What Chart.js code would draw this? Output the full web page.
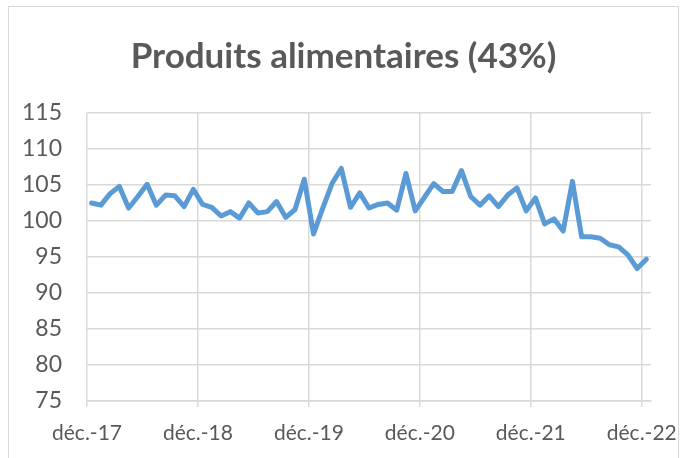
<!DOCTYPE html>
<html>
<head>
<meta charset="utf-8">
<script src="https://cdn.jsdelivr.net/npm/chart.js@4.4.1/dist/chart.umd.min.js"></script>
<style>
  html, body { margin: 0; padding: 0; background: #fff; }
  #wrap { position: relative; width: 681px; height: 458px; overflow: hidden; }
  #frame { position: absolute; left: 8px; top: 6px; width: 671px; height: 470px; border: 1px solid #d9d9d9; box-sizing: border-box; }
  #chart { position: absolute; left: 0; top: 0; }
</style>
</head>
<body>
<div id="wrap">
  <div id="frame"></div>
  <canvas id="chart" width="681" height="458"></canvas>
</div>
<script>
// monthly index, déc.-17 .. déc.-22
const values = [
    102.5, 102.2, 103.8, 104.8, 101.8, 103.4, 105.1, 102.2, 103.6, 103.5, 102.0, 104.4,
    102.3, 101.9, 100.7, 101.3, 100.4, 102.5, 101.1, 101.3, 102.7, 100.5, 101.6, 105.8,
    98.2, 101.8, 105.2, 107.3, 101.9, 103.9, 101.8, 102.3, 102.5, 101.5, 106.6, 101.4,
    103.3, 105.2, 104.1, 104.1, 107.0, 103.4, 102.2, 103.5, 102.0, 103.6, 104.6, 101.4,
    103.2, 99.6, 100.3, 98.6, 105.5, 97.8, 97.8, 97.6, 96.7, 96.4, 95.3, 93.4, 94.7
];
const yearLabels = ["déc.-17", "déc.-18", "déc.-19", "déc.-20", "déc.-21", "déc.-22"];
const yTicks = [75, 80, 85, 90, 95, 100, 105, 110, 115];
const title = "Produits alimentaires (43%)";

const grey = "#595959";
const gridColor = "#d9d9d9";

// each month sits in the middle of its slot on the date axis
const points = values.map((v, i) => ({ x: i + 0.5, y: v }));

// centre the title over the whole frame, not over the plot
const titleCentre = {
    id: "titleCentre",
    afterLayout(chart) {
        const t = chart.titleBlock;
        if (t) { t.left = 8; t.right = 679; }
    }
};

new Chart(document.getElementById("chart"), {
    type: "line",
    data: {
        datasets: [{
            data: points,
            borderColor: "#5b9bd5",
            borderWidth: 5,
            pointRadius: 0,
            borderJoinStyle: "round",
            borderCapStyle: "round",
            tension: 0,
            fill: false
        }]
    },
    options: {
        responsive: false,
        animation: false,
        layout: { padding: { left: 0, right: 30, top: 0, bottom: 0 } },
        plugins: {
            legend: { display: false },
            tooltip: { enabled: false },
            title: {
                display: true,
                text: title,
                color: grey,
                font: { family: "Lato", size: 35, weight: "bold", lineHeight: 1.2 },
                padding: { top: 36, bottom: 35 }
            }
        },
        scales: {
            x: {
                type: "linear",
                min: 0,
                max: values.length,
                afterBuildTicks: s => {
                    s.ticks = yearLabels.map((_, i) => ({ value: i * 12 }));
                },
                afterFit: s => {
                    s.height = 57;
                    // let the last label run to the edge, as in the original
                    s.paddingLeft = 0;
                    s.paddingRight = 0;
                },
                ticks: {
                    autoSkip: false,
                    maxRotation: 0,
                    color: grey,
                    padding: 14,
                    font: { family: "Lato", size: 21 },
                    callback: v => yearLabels[v / 12]
                },
                grid: { color: gridColor, lineWidth: 1.5, drawTicks: true, tickLength: 6, tickColor: gridColor },
                border: { color: gridColor, width: 1.5 }
            },
            y: {
                min: yTicks[0],
                max: yTicks[yTicks.length - 1],
                afterFit: s => { s.width = 87; },
                ticks: {
                    stepSize: 5,
                    color: grey,
                    padding: 25,
                    font: { family: "Lato", size: 23 }
                },
                grid: { color: gridColor, lineWidth: 1.5, drawTicks: false },
                border: { display: false }
            }
        }
    },
    plugins: [titleCentre]
});
</script>
</body>
</html>
